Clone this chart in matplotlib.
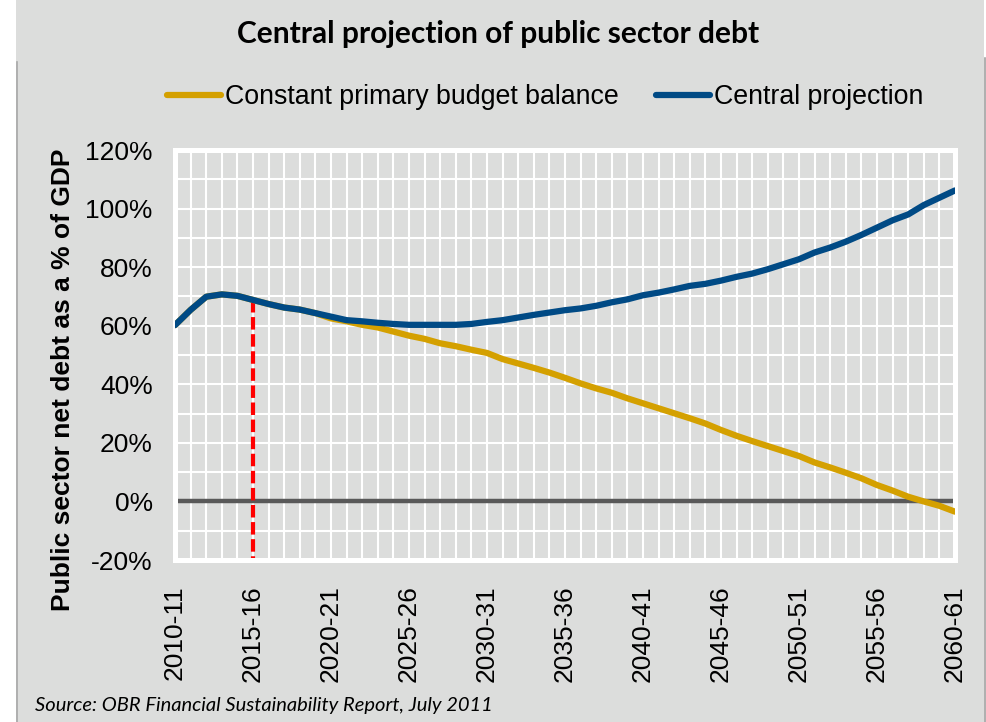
import matplotlib.pyplot as plt
import numpy as np
from matplotlib.patches import Rectangle
from matplotlib.lines import Line2D

# fiscal years 2010-11 .. 2060-61
years = [f"{y}-{str(y + 1)[-2:]}" for y in range(2010, 2061)]

# public sector net debt, % of GDP
central = [60.2, 65.4, 69.9, 70.7, 70.2, 68.8, 67.4, 66.2, 65.5, 64.3,
           63.1, 61.9, 61.5, 61.0, 60.6, 60.3, 60.3, 60.3, 60.3, 60.6,
           61.3, 61.9, 62.8, 63.7, 64.5, 65.3, 65.9, 66.8, 68.0, 69.0,
           70.4, 71.3, 72.4, 73.6, 74.3, 75.4, 76.7, 77.8, 79.3, 81.0,
           82.7, 85.0, 86.7, 88.7, 91.0, 93.5, 96.0, 98.0, 101.2, 103.7,
           106.2]
constant_pbb = [60.2, 65.4, 69.9, 70.7, 70.2, 68.8, 67.4, 66.2, 65.5, 64.3,
                62.5, 61.5, 60.3, 59.4, 58.0, 56.6, 55.5, 54.0, 53.0, 51.8,
                50.7, 48.6, 47.1, 45.6, 44.0, 42.2, 40.3, 38.6, 37.1, 35.2,
                33.5, 31.8, 30.1, 28.4, 26.6, 24.4, 22.4, 20.6, 18.9, 17.2,
                15.5, 13.3, 11.6, 9.8, 7.9, 5.6, 3.7, 1.6, 0.0, -1.5,
                -3.5]
marker_year = "2015-16"

GREY = "#dcdddc"
GOLD = "#d4a000"
NAVY = "#004a85"

plt.rcParams['font.family'] = ['Liberation Sans', 'DejaVu Sans']

W, H = 986, 722
fig = plt.figure(figsize=(W / 100, H / 100), dpi=100, facecolor="white")

# grey panel behind everything
fig.patches.append(Rectangle((16 / W, 0), 1 - 16 / W, 1, transform=fig.transFigure,
                             facecolor=GREY, edgecolor="none", zorder=-10))
fig.patches.append(Rectangle((984 / W, 1 - 58 / H), 2 / W, 58 / H, transform=fig.transFigure,
                             facecolor="white", edgecolor="none", zorder=-9))
fig.lines.append(Line2D([16.5 / W, 16.5 / W], [0, 1 - 62 / H], transform=fig.transFigure,
                        color="#a8a8a8", lw=1.2, zorder=-8))
fig.lines.append(Line2D([985 / W, 985 / W], [0, 1 - 58 / H], transform=fig.transFigure,
                        color="#a8a8a8", lw=1.2, zorder=-8))

ax = fig.add_axes([175 / W, 1 - 560 / H, 780 / W, 410 / H])
ax.set_facecolor(GREY)

x = np.arange(len(years))
ax.plot(x, constant_pbb, color=GOLD, lw=4.5, solid_capstyle="round",
        label="Constant primary budget balance", zorder=3)
ax.plot(x, central, color=NAVY, lw=4.5, solid_capstyle="round",
        label="Central projection", zorder=4)
ax.axhline(0, color="#595959", lw=3.2, zorder=2)

# dashed marker from the central line down through the bottom frame
mi = years.index(marker_year)
ax.plot([mi, mi], [central[mi], -21], color="#ff0000", lw=3,
        dashes=(3, 1.1), zorder=2, clip_on=False)

ax.set_xlim(0, len(years) - 1)
ax.set_ylim(-20, 120)
ax.set_xticks(x[::5])
ax.set_xticklabels(years[::5], rotation=90, fontsize=19)
ax.set_xticks(x, minor=True)
ax.set_yticks(np.arange(-20, 121, 20))
ax.set_yticklabels([f"{v}%" for v in range(-20, 121, 20)], fontsize=19)
ax.set_yticks(np.arange(-20, 121, 10), minor=True)
ax.tick_params(which="both", length=0)
ax.tick_params(axis="x", pad=18)
ax.tick_params(axis="y", pad=16)
ax.grid(which="both", color="white", lw=1.5, zorder=1)
ax.set_axisbelow(True)
for s in ax.spines.values():
    s.set_color("white")
    s.set_linewidth(3.6)

ax.set_ylabel("Public sector net debt as a % of GDP", fontsize=19, fontweight="bold")
ax.yaxis.set_label_coords(-0.128, 0.44)

fig.legend(loc="center", bbox_to_anchor=(545 / W, 1 - 97 / H), ncol=2, frameon=False,
           fontsize=19.3, handlelength=2.0, handletextpad=0.15, columnspacing=1.4)

fig.text(498 / W, 1 - 34 / H, "Central projection of public sector debt",
         ha="center", va="center", fontsize=21.5, fontweight="bold", family="Lato")
fig.text(35 / W, 1 - 705 / H, "Source: OBR Financial Sustainability Report, July 2011",
         ha="left", va="center", fontsize=14.5, style="italic", family="Lato")

fig.savefig("out.png", dpi=100, facecolor=fig.get_facecolor())
